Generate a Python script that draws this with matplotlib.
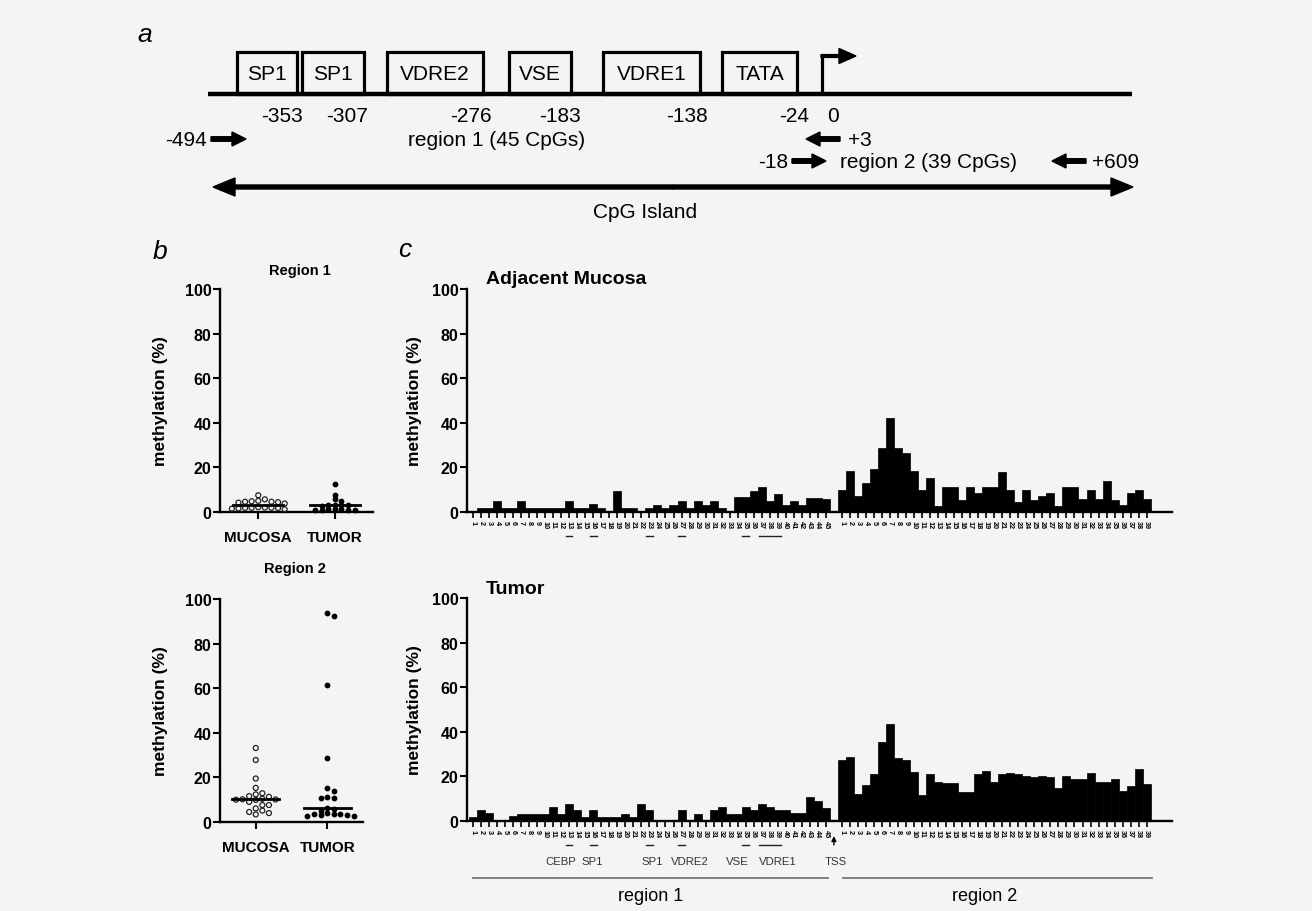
import numpy as np
import matplotlib
matplotlib.use('Agg')
import matplotlib.pyplot as plt
from matplotlib import transforms
from matplotlib.patches import Rectangle

W, H = 1312, 912
BG = '#f4f4f4'
plt.rcParams['font.family'] = ['Liberation Sans', 'DejaVu Sans']

# ---------------- data ----------------
r1_cpg = [str(i) for i in range(1, 46)]
r2_cpg = [str(i) for i in range(1, 40)]

mucosa_r1_cpg = [0, 1.8, 1.8, 4.9, 1.8, 1.8, 4.9, 1.8, 1.8, 1.8, 1.8, 1.8, 4.9, 1.8, 1.8,
                 3.4, 1.8, 0, 9.6, 1.8, 1.8, 0, 1.8, 3.3, 1.8, 3.3, 4.9, 1.8, 4.9, 3.3,
                 4.9, 1.8, 0, 6.6, 6.6, 9.6, 11.2, 4.9, 8.1, 3.3, 4.9, 3.3, 6.4, 6.4, 5.8]
mucosa_r2_cpg = [10.0, 18.2, 7.3, 12.9, 19.4, 28.7, 42.2, 28.7, 26.5, 18.2, 9.7, 15.2, 2.8,
                 11.1, 11.1, 5.5, 11.4, 8.5, 11.4, 11.2, 18.1, 9.7, 4.3, 9.7, 5.5, 7.0,
                 8.4, 2.8, 11.1, 11.1, 5.8, 9.7, 5.8, 13.8, 5.5, 3.1, 8.4, 10.0, 5.8]
tumor_r1_cpg = [1.9, 4.8, 3.4, 0, 0, 2.1, 3.3, 3.3, 3.3, 3.3, 6.3, 3.3, 7.6, 4.8, 1.9,
                4.8, 1.9, 1.9, 1.9, 3.3, 1.9, 7.6, 4.8, 0, 0, 0, 4.8, 0, 3.3, 0,
                4.8, 6.3, 3.3, 3.3, 6.3, 4.8, 7.8, 6.3, 4.8, 4.8, 3.4, 3.4, 10.6, 9.1, 5.7]
tumor_r2_cpg = [27.5, 28.5, 12.1, 16.0, 21.2, 35.6, 43.3, 28.3, 27.2, 21.8, 11.7, 21.2, 17.3,
                17.0, 17.0, 13.2, 13.2, 21.2, 22.6, 17.3, 21.2, 21.5, 21.2, 20.0, 19.9, 20.2,
                19.9, 14.6, 20.2, 18.8, 18.8, 21.5, 17.3, 17.3, 18.8, 13.3, 15.8, 23.3, 16.6]

groups = ['MUCOSA', 'TUMOR']
reg1_mucosa = [7.5, 5.7, 5.0, 4.8, 4.6, 4.6, 4.4, 4.2, 3.8, 2.2, 2.0, 1.9, 1.9, 1.8, 1.8,
               1.6, 1.5, 1.2]
reg1_tumor = [12.4, 7.5, 5.7, 4.9, 3.3, 3.1, 3.0, 3.0, 2.9, 1.3, 1.2, 1.2, 1.1, 1.0, 0.9,
              0.8]
reg2_mucosa = [33.2, 27.8, 19.5, 15.3, 12.9, 12.4, 11.6, 11.3, 10.4, 10.2, 10.1, 10.0, 9.9,
               9.0, 7.6, 7.6, 6.1, 5.1, 4.5, 4.0, 3.4]
reg2_tumor = [93.6, 92.2, 61.5, 28.7, 15.3, 13.8, 11.4, 10.9, 10.9, 6.4, 5.8, 5.0, 4.0, 3.6,
              3.4, 3.4, 3.2, 3.0, 2.5, 2.5]

yticks = [0, 20, 40, 60, 80, 100]

motif_spans = [(13, 13), (16, 16), (23, 23), (27, 27), (35, 35), (37, 39)]
motif_names = ['CEBP', 'SP1', 'SP1', 'VDRE2', 'VSE', 'VDRE1']
motif_label_cpg = [11.9, 15.9, 23.4, 28.0, 34.0, 39.0]

# panel a diagram content
box_names = ['SP1', 'SP1', 'VDRE2', 'VSE', 'VDRE1', 'TATA']
box_px = [(237, 297), (302, 364), (387, 483), (509, 571), (603, 700), (722, 797)]
pos_labels = ['-353', '-307', '-276', '-183', '-138', '-24', '0']
pos_label_px = [282, 347, 471, 560, 687, 794, 833]

# ---------------- helpers ----------------
fig = plt.figure(figsize=(W / 100, H / 100), dpi=100, facecolor=BG)


def px_rect(x0, y0, x1, y1):
    return [x0 / W, 1 - y1 / H, (x1 - x0) / W, (y1 - y0) / H]


def fx(x):
    return x / W


def fy(y):
    return 1 - y / H


BOLD = dict(fontweight='bold')


def style_axes(ax):
    ax.set_facecolor(BG)
    for s in ['top', 'right']:
        ax.spines[s].set_visible(False)
    for s in ['left', 'bottom']:
        ax.spines[s].set_linewidth(1.7)
    ax.set_ylim(0, 100)
    ax.set_yticks(yticks)
    ax.set_yticklabels([str(t) for t in yticks], fontsize=11.5, fontweight='bold')
    ax.tick_params(axis='y', direction='out', length=5, width=1.5, pad=1)


def swarm_offsets(values, ppu_y, ppu_x, col_px, v_thr):
    vals = np.asarray(values, dtype=float)
    order = np.argsort(-vals, kind='stable')
    cands = [0]
    for k in range(1, 12):
        cands += [k, -k]
    placed = {}
    offs = np.zeros(len(vals))
    for i in order:
        y = vals[i] * ppu_y
        for c in cands:
            if all(abs(y - py) >= v_thr for py in placed.get(c, [])):
                break
        placed.setdefault(c, []).append(y)
        offs[i] = c * col_px / ppu_x
    return offs


# ---------------- overlay for panel a ----------------
ax0 = fig.add_axes([0, 0, 1, 1])
ax0.set_xlim(0, W)
ax0.set_ylim(H, 0)
ax0.axis('off')
ax0.patch.set_alpha(0)

FA = dict(fontsize=15, color='black')
ax0.text(145, 35, 'a', fontsize=19, style='italic', ha='center', va='center')
ax0.plot([208, 1132], [95, 95], color='black', lw=3.2, solid_capstyle='butt')
for name, (x0, x1) in zip(box_names, box_px):
    ax0.add_patch(Rectangle((x0, 53), x1 - x0, 42, fill=False, lw=2.3, edgecolor='black'))
    ax0.text((x0 + x1) / 2, 74, name, ha='center', va='center', **FA)
# TSS bent arrow
ax0.plot([822, 822], [95, 57], color='black', lw=2.3, solid_capstyle='butt')
ax0.arrow(821, 57, 35, 0, width=2.8, head_width=15, head_length=17,
          length_includes_head=True, color='black')
for t, x in zip(pos_labels, pos_label_px):
    ax0.text(x, 116, t, ha='center', va='center', **FA)

AR = dict(width=4.5, head_width=14, head_length=14, length_includes_head=True, color='black')
ax0.text(207, 140, '-494', ha='right', va='center', **FA)
ax0.arrow(211, 140, 35, 0, **AR)
ax0.text(497, 140, 'region 1 (45 CpGs)', ha='center', va='center', **FA)
ax0.arrow(840, 140, -34, 0, **AR)
ax0.text(848, 140, '+3', ha='left', va='center', **FA)
ax0.text(788, 162, '-18', ha='right', va='center', **FA)
ax0.arrow(792, 162, 34, 0, **AR)
ax0.text(929, 162, 'region 2 (39 CpGs)', ha='center', va='center', **FA)
ax0.arrow(1086, 162, -34, 0, **AR)
ax0.text(1092, 162, '+609', ha='left', va='center', **FA)
# CpG island double arrow
DA = dict(width=4, head_width=18, head_length=22, length_includes_head=True, color='black')
ax0.arrow(673, 188, 1133 - 673, 0, **DA)
ax0.arrow(673, 188, 213 - 673, 0, **DA)
ax0.text(645, 213, 'CpG Island', ha='center', va='center', **FA)

# panel letters
fig.text(fx(160), fy(252), 'b', fontsize=19, style='italic', ha='center', va='center')
fig.text(fx(405), fy(250), 'c', fontsize=19, style='italic', ha='center', va='center')

# ---------------- panel b ----------------
b_specs = [((220, 290, 373, 513), reg1_mucosa, reg1_tumor, 'Region 1', 271),
           ((220, 600, 363, 823), reg2_mucosa, reg2_tumor, 'Region 2', 569)]
for (rect, muc, tum, title, ty) in b_specs:
    ax = fig.add_axes(px_rect(*rect))
    style_axes(ax)
    ax.set_xlim(-0.5, 1.5)
    ppu_x = (rect[2] - rect[0]) / 2.0
    ppu_y = (rect[3] - rect[1]) / 100.0
    for gi, vals in enumerate([muc, tum]):
        offs = swarm_offsets(vals, ppu_y, ppu_x, 6.6, 5.5 if gi == 0 else 3.8)
        xs = gi + offs
        if gi == 0:
            ax.scatter(xs, vals, s=13, facecolors='none', edgecolors='#222222',
                       linewidths=0.9, clip_on=False, zorder=3)
        else:
            ax.scatter(xs, vals, s=10, color='black', clip_on=False, zorder=3)
        med = np.median(vals)
        ax.plot([gi - 0.33, gi + 0.33], [med, med], color='black', lw=2, zorder=4)
    ax.set_xticks([0, 1])
    ax.set_xticklabels(groups, fontsize=11, fontweight='bold')
    ax.tick_params(axis='x', direction='out', length=5, width=1.5, pad=8)
    fig.text(fx(160), fy((rect[1] + rect[3]) / 2), 'methylation (%)', rotation=90,
             ha='center', va='center', fontsize=12.5, **BOLD)
    fig.text(fx((rect[0] + rect[2]) / 2 + 3), fy(ty), title, ha='center', va='center',
             fontsize=10.5, **BOLD)

# ---------------- panel c ----------------
def bar_panel(rect, r1, r2, title, title_y):
    ax = fig.add_axes(px_rect(*rect))
    style_axes(ax)
    pos = list(range(len(r1))) + [len(r1) + 1 + i for i in range(len(r2))]
    ax.bar(pos, list(r1) + list(r2), width=1.0, color='black', edgecolor='black',
           linewidth=0.5)
    ax.set_xlim(-0.75, 87.16)
    ax.set_xticks(pos)
    ax.set_xticklabels(r1_cpg + r2_cpg, rotation=-90, fontsize=5.2, fontweight='bold')
    ax.tick_params(axis='x', direction='out', length=4.5, width=1.2, pad=1)
    fig.text(fx(415), fy((rect[1] + rect[3]) / 2), 'methylation (%)', rotation=90,
             ha='center', va='center', fontsize=12.5, **BOLD)
    fig.text(fx(486), fy(title_y), title, ha='left', va='center', fontsize=14, **BOLD)
    trans = transforms.blended_transform_factory(ax.transData, ax.transAxes)
    for a, b in motif_spans:
        ax.plot([a - 1 - 0.4, b - 1 + 0.4], [-0.108, -0.108], transform=trans,
                clip_on=False, color='#222222', lw=1.0)
    return ax, trans, len(r1)


bar_panel((467, 290, 1172, 513), mucosa_r1_cpg, mucosa_r2_cpg, 'Adjacent Mucosa', 280)
axc2, trans, n1 = bar_panel((467, 599, 1172, 822), tumor_r1_cpg, tumor_r2_cpg, 'Tumor', 589)

for name, c in zip(motif_names, motif_label_cpg):
    axc2.text(c - 1, -0.179, name, transform=trans, ha='center', va='center',
              fontsize=8.2, color='#333333', clip_on=False)
axc2.annotate('', xy=(n1, -0.055), xytext=(n1, -0.12), xycoords=trans, textcoords=trans,
              arrowprops=dict(arrowstyle='-|>', color='black', lw=1.0, mutation_scale=7))
axc2.text(n1 + 0.3, -0.179, 'TSS', transform=trans, ha='center', va='center',
          fontsize=8.2, color='#333333', clip_on=False)
axc2.plot([0, n1 - 0.7], [-0.256, -0.256], transform=trans, clip_on=False,
          color='#777777', lw=1.3)
axc2.plot([n1 + 1.1, 84.7], [-0.256, -0.256], transform=trans, clip_on=False,
          color='#777777', lw=1.3)
axc2.text((n1 - 0.7) / 2, -0.336, 'region 1', transform=trans, ha='center', va='center',
          fontsize=13, clip_on=False)
axc2.text(63.8, -0.336, 'region 2', transform=trans, ha='center', va='center',
          fontsize=13, clip_on=False)

fig.savefig('out.png', dpi=100, facecolor=BG)
